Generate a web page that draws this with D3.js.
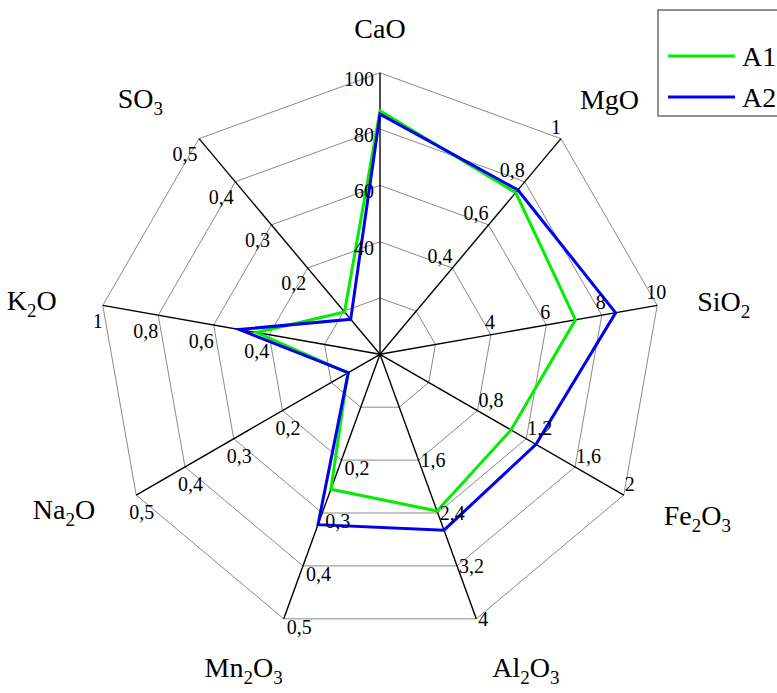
<!DOCTYPE html>
<html>
<head>
<meta charset="utf-8">
<script src="https://cdn.jsdelivr.net/npm/d3@7"></script>
<style>
  html, body { margin: 0; padding: 0; background: #fff; }
  svg { display: block; }
  text { font-family: "Liberation Serif", "Times New Roman", serif; fill: #000; }
</style>
</head>
<body>
<svg id="chart" width="777" height="693"></svg>
<script>
// Oxide axes, clockwise from the top
const categories = ["CaO", "MgO", "SiO2", "Fe2O3", "Al2O3", "Mn2O3", "Na2O", "K2O", "SO3"];
// Full-scale value of each axis
const axisMax = [100, 1, 10, 2, 4, 0.5, 0.5, 1, 0.5];
// Sample compositions
const seriesNames = ["A1", "A2"];
const a1 = [86.5, 0.75, 7.05, 1.075, 2.37, 0.255, 0.066, 0.445, 0.098];
const a2 = [85.3, 0.762, 8.5, 1.28, 2.66, 0.322, 0.065, 0.508, 0.081];
// Grid rings as fractions of full scale
const ringFractions = [0.2, 0.4, 0.6, 0.8, 1];
// Labelled tick values on each axis
const tickValues = [
  [40, 60, 80, 100],
  [0.4, 0.6, 0.8, 1],
  [4, 6, 8, 10],
  [0.8, 1.2, 1.6, 2],
  [1.6, 2.4, 3.2, 4],
  [0.2, 0.3, 0.4, 0.5],
  [0.2, 0.3, 0.4, 0.5],
  [0.4, 0.6, 0.8, 1],
  [0.2, 0.3, 0.4, 0.5]
];

const seriesColors = ["#00ee00", "#0000f0"];

const svg = d3.select("#chart");
const cx = 380, cy = 354.3, R = 281.5;

const angle = d3.scaleLinear().domain([0, categories.length]).range([0, 2 * Math.PI]);
const radius = axisMax.map(m => d3.scaleLinear().domain([0, m]).range([0, R]));
const fmt = d3.formatLocale({ decimal: ",", thousands: " ", grouping: [3], currency: ["", ""] }).format("~g");

const pt = (i, r) => [Math.sin(angle(i)) * r, -Math.cos(angle(i)) * r];

const g = svg.append("g").attr("transform", `translate(${cx},${cy})`);

// grid rings
const ringLine = d3.lineRadial()
  .angle((d, i) => angle(i))
  .radius(d => d)
  .curve(d3.curveLinearClosed);

g.append("g").selectAll("path")
  .data(ringFractions)
  .join("path")
  .attr("d", f => ringLine(categories.map((c, i) => radius[i](axisMax[i] * f))))
  .attr("fill", "none")
  .attr("stroke", "#8a8a8a")
  .attr("stroke-width", 1);

// spokes
g.append("g").selectAll("line")
  .data(categories)
  .join("line")
  .attr("x1", 0).attr("y1", 0)
  .attr("x2", (d, i) => pt(i, radius[i](axisMax[i]))[0])
  .attr("y2", (d, i) => pt(i, radius[i](axisMax[i]))[1])
  .attr("stroke", "#000")
  .attr("stroke-width", 1.4);

// series polygons
const seriesLine = d3.lineRadial()
  .angle((d, i) => angle(i))
  .radius((d, i) => radius[i](d))
  .curve(d3.curveLinearClosed);

g.append("g").selectAll("path")
  .data([a1, a2])
  .join("path")
  .attr("d", d => seriesLine(d))
  .attr("fill", "none")
  .attr("stroke", (d, k) => seriesColors[k])
  .attr("stroke-width", 3)
  .attr("stroke-linejoin", "miter")
  .attr("stroke-miterlimit", 10);

// tick label placement relative to each tick point (anchor, dx, baseline dy)
const tickPlacement = [
  ["end", -6, 13],
  ["end", 0, -5],
  ["middle", -1, -6],
  ["start", 1, -4],
  ["start", 2, 7],
  ["start", 3, 15],
  ["start", -7, 24],
  ["end", 0, 23],
  ["end", -1.5, 22]
];

const tickGroup = g.append("g").attr("font-size", 20);
categories.forEach((c, i) => {
  const [anchor, dx, dy] = tickPlacement[i];
  tickGroup.selectAll(null)
    .data(tickValues[i])
    .join("text")
    .attr("x", v => pt(i, radius[i](v))[0] + dx)
    .attr("y", v => pt(i, radius[i](v))[1] + dy)
    .attr("text-anchor", anchor)
    .text(v => fmt(v));
});

// axis titles with subscripted digits
const titlePlacement = [
  ["middle", 0, -35],
  ["start", 19, -30],
  ["start", 40, 6],
  ["start", 40, 30],
  ["start", 16, 58],
  ["end", -1, 58],
  ["end", -41, 24],
  ["end", -46, 5],
  ["end", -36, -31]
];

const titleGroup = g.append("g").attr("font-size", 28);
categories.forEach((c, i) => {
  const [anchor, dx, dy] = titlePlacement[i];
  const end = pt(i, radius[i](axisMax[i]));
  const t = titleGroup.append("text")
    .attr("x", end[0] + dx)
    .attr("y", end[1] + dy)
    .attr("text-anchor", anchor);
  let sub = false;
  c.match(/\d+|\D+/g).forEach(part => {
    const isSub = /\d/.test(part);
    const span = t.append("tspan").text(part);
    if (isSub) span.attr("font-size", 19);
    if (isSub !== sub) span.attr("dy", isSub ? 7 : -7);
    sub = isSub;
  });
});

// legend
const legend = svg.append("g");
legend.append("rect")
  .attr("x", 658).attr("y", 10)
  .attr("width", 140).attr("height", 106)
  .attr("fill", "#fff")
  .attr("stroke", "#6e6e6e")
  .attr("stroke-width", 1.5);

const items = legend.selectAll("g.item")
  .data(seriesNames)
  .join("g")
  .attr("class", "item")
  .attr("transform", (d, k) => `translate(0,${56 + k * 41})`);

items.append("line")
  .attr("x1", 668).attr("x2", 735)
  .attr("y1", 0).attr("y2", 0)
  .attr("stroke", (d, k) => seriesColors[k])
  .attr("stroke-width", 3);

items.append("text")
  .attr("x", 742).attr("y", 10)
  .attr("font-size", 28)
  .text(d => d);
</script>
</body>
</html>
